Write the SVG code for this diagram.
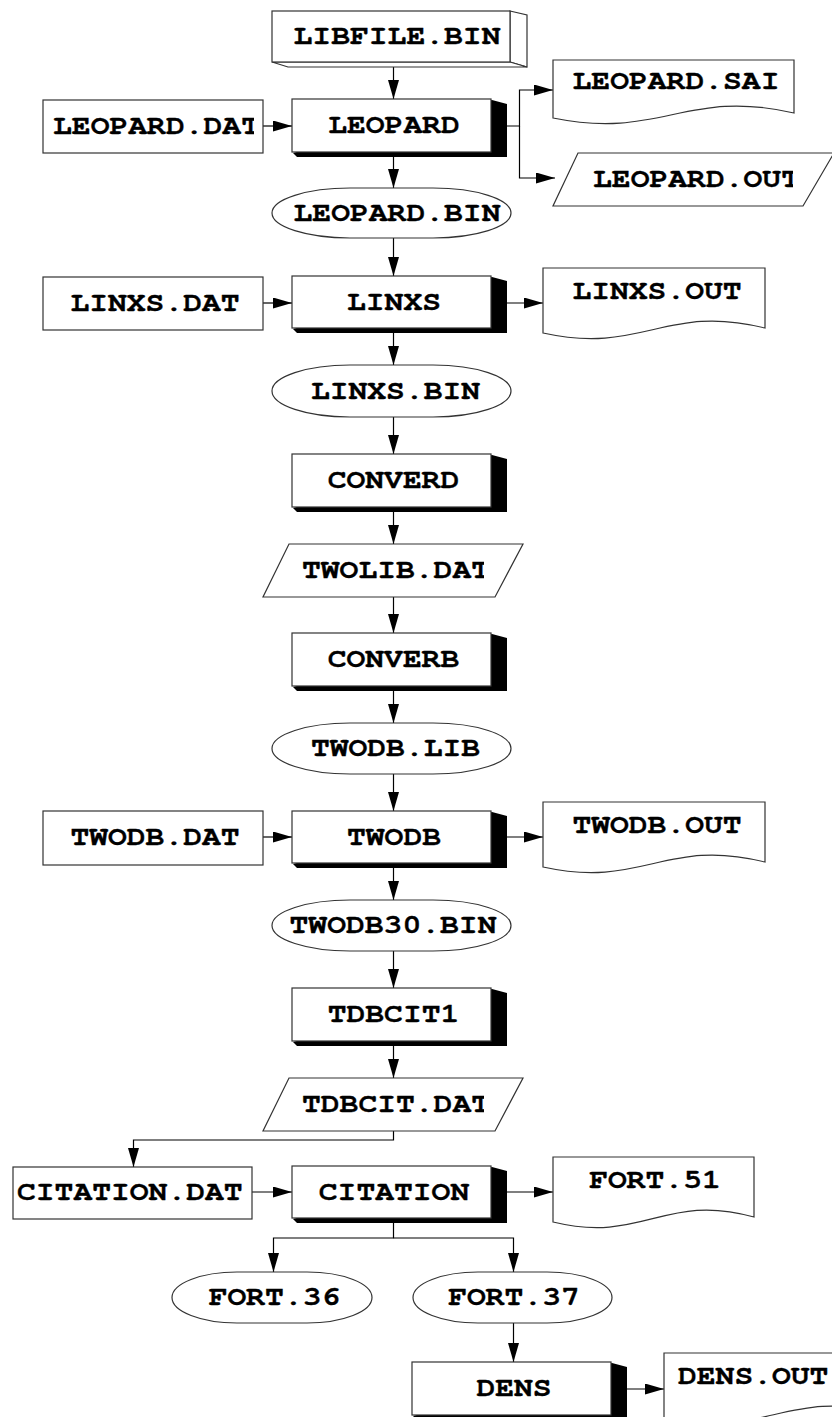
<svg xmlns="http://www.w3.org/2000/svg" width="832" height="1417" viewBox="0 0 832 1417">
<style>
.bg{fill:#fff}
.n{fill:#fff;stroke:#333;stroke-width:1.2}
.sh{fill:#000}
.t{font-family:"Nimbus Mono PS","Nimbus Mono L","FreeMono","Liberation Mono",monospace;font-weight:bold;font-size:26px;fill:#000;stroke:#000;stroke-width:0.3}
.c{fill:none;stroke:#000;stroke-width:1.2}
</style>
<defs>
<marker id="ah" markerUnits="userSpaceOnUse" markerWidth="20" markerHeight="12" refX="19" refY="5.5" orient="auto">
<path d="M0,0 L19,5.5 L0,11 Z" fill="#000"/>
</marker>
<clipPath id="cLD"><rect x="43" y="95" width="211" height="62"/></clipPath>
<clipPath id="cLO"><rect x="553" y="150" width="240" height="60"/></clipPath>
<clipPath id="cTL"><rect x="263" y="540" width="221" height="60"/></clipPath>
<clipPath id="cTD"><rect x="263" y="1074" width="221" height="60"/></clipPath>
<clipPath id="cCD"><rect x="13" y="1162" width="232" height="60"/></clipPath>
</defs>
<rect class="bg" x="0" y="0" width="832" height="1417"/>

<g id="connectors">
<line class="c" x1="393.5" y1="67" x2="393.5" y2="99" marker-end="url(#ah)"/>
<line class="c" x1="263" y1="126" x2="292" y2="126" marker-end="url(#ah)"/>
<polyline class="c" points="507,126 519.5,126 519.5,90 553,90" marker-end="url(#ah)"/>
<polyline class="c" points="519.5,126 519.5,178 555,178" marker-end="url(#ah)"/>
<line class="c" x1="393.5" y1="157" x2="393.5" y2="188" marker-end="url(#ah)"/>
<line class="c" x1="393.5" y1="238" x2="393.5" y2="276" marker-end="url(#ah)"/>
<line class="c" x1="263" y1="303" x2="292" y2="303" marker-end="url(#ah)"/>
<line class="c" x1="507" y1="303" x2="543" y2="303" marker-end="url(#ah)"/>
<line class="c" x1="393.5" y1="333" x2="393.5" y2="365" marker-end="url(#ah)"/>
<line class="c" x1="393.5" y1="417" x2="393.5" y2="454" marker-end="url(#ah)"/>
<line class="c" x1="393.5" y1="512" x2="393.5" y2="544" marker-end="url(#ah)"/>
<line class="c" x1="393.5" y1="597" x2="393.5" y2="633" marker-end="url(#ah)"/>
<line class="c" x1="393.5" y1="691" x2="393.5" y2="723" marker-end="url(#ah)"/>
<line class="c" x1="393.5" y1="774" x2="393.5" y2="811" marker-end="url(#ah)"/>
<line class="c" x1="263" y1="837" x2="292" y2="837" marker-end="url(#ah)"/>
<line class="c" x1="507" y1="837" x2="543" y2="837" marker-end="url(#ah)"/>
<line class="c" x1="393.5" y1="868" x2="393.5" y2="900" marker-end="url(#ah)"/>
<line class="c" x1="393.5" y1="951" x2="393.5" y2="988" marker-end="url(#ah)"/>
<line class="c" x1="393.5" y1="1046" x2="393.5" y2="1078" marker-end="url(#ah)"/>
<polyline class="c" points="393.5,1131 393.5,1140 133.5,1140 133.5,1167" marker-end="url(#ah)"/>
<line class="c" x1="252" y1="1192" x2="292" y2="1192" marker-end="url(#ah)"/>
<line class="c" x1="507" y1="1192" x2="553" y2="1192" marker-end="url(#ah)"/>
<polyline class="c" points="393.5,1223 393.5,1238 273.5,1238 273.5,1272" marker-end="url(#ah)"/>
<polyline class="c" points="393.5,1238 513.5,1238 513.5,1272" marker-end="url(#ah)"/>
<line class="c" x1="513.5" y1="1323" x2="513.5" y2="1362" marker-end="url(#ah)"/>
<line class="c" x1="627" y1="1389" x2="664" y2="1389" marker-end="url(#ah)"/>
</g>

<g id="libfile_bin">
<polygon class="n" points="510,11 527,15 527,67 510,62"/>
<polygon class="n" points="272,62 510,62 527,67 288,67"/>
<rect class="n" x="272" y="11" width="238" height="51"/>
<text class="t" x="397" y="44" text-anchor="middle" textLength="207" lengthAdjust="spacingAndGlyphs">LIBFILE.BIN</text>
</g>

<g id="leopard_dat">
<rect class="n" x="43" y="100" width="220" height="53"/>
<text class="t" x="53" y="134" clip-path="url(#cLD)" textLength="207" lengthAdjust="spacingAndGlyphs">LEOPARD.DAT</text>
</g>

<g id="leopard">
<polygon class="sh" points="492,100 507,104 507,157 297,157 293,153"/>
<rect class="n" x="292" y="99" width="199" height="53"/>
<text class="t" x="394" y="133" text-anchor="middle" textLength="131.6" lengthAdjust="spacingAndGlyphs">LEOPARD</text>
</g>

<g id="leopard_sai">
<path class="n" d="M553,60 H794 V113 C685.5,88 661.5,140 553,118 Z"/>
<text class="t" x="676" y="89" text-anchor="middle" textLength="207" lengthAdjust="spacingAndGlyphs">LEOPARD.SAI</text>
</g>

<g id="leopard_out">
<polygon class="n" points="578,153 834,153 803,206 553,206"/>
<text class="t" x="593" y="187" clip-path="url(#cLO)" textLength="207" lengthAdjust="spacingAndGlyphs">LEOPARD.OUT</text>
</g>

<g id="leopard_bin">
<rect class="n" x="272" y="188" width="239" height="50" rx="78" ry="25"/>
<text class="t" x="397" y="220.5" text-anchor="middle" textLength="207" lengthAdjust="spacingAndGlyphs">LEOPARD.BIN</text>
</g>

<g id="linxs_dat">
<rect class="n" x="43" y="277" width="220" height="53"/>
<text class="t" x="155" y="311" text-anchor="middle" textLength="169" lengthAdjust="spacingAndGlyphs">LINXS.DAT</text>
</g>

<g id="linxs">
<polygon class="sh" points="492,277 507,281 507,333 297,333 293,329"/>
<rect class="n" x="292" y="276" width="199" height="52"/>
<text class="t" x="394" y="309.5" text-anchor="middle" textLength="94" lengthAdjust="spacingAndGlyphs">LINXS</text>
</g>

<g id="linxs_out">
<path class="n" d="M543,268 H765 V328 C665,303 643,355 543,333 Z"/>
<text class="t" x="657" y="299" text-anchor="middle" textLength="169" lengthAdjust="spacingAndGlyphs">LINXS.OUT</text>
</g>

<g id="linxs_bin">
<rect class="n" x="272" y="365" width="239" height="52" rx="78" ry="26"/>
<text class="t" x="395.5" y="398.5" text-anchor="middle" textLength="169" lengthAdjust="spacingAndGlyphs">LINXS.BIN</text>
</g>

<g id="converd">
<polygon class="sh" points="492,455 507,459 507,512 297,512 293,508"/>
<rect class="n" x="292" y="454" width="199" height="53"/>
<text class="t" x="393.5" y="488" text-anchor="middle" textLength="131.6" lengthAdjust="spacingAndGlyphs">CONVERD</text>
</g>

<g id="twolib_dat">
<polygon class="n" points="289,544 523,544 495,597 263,597"/>
<text class="t" x="302" y="578" clip-path="url(#cTL)" textLength="188" lengthAdjust="spacingAndGlyphs">TWOLIB.DAT</text>
</g>

<g id="converb">
<polygon class="sh" points="492,634 507,638 507,691 297,691 293,687"/>
<rect class="n" x="292" y="633" width="199" height="53"/>
<text class="t" x="393.5" y="667" text-anchor="middle" textLength="131.6" lengthAdjust="spacingAndGlyphs">CONVERB</text>
</g>

<g id="twodb_lib">
<rect class="n" x="272" y="723" width="239" height="51" rx="78" ry="25.5"/>
<text class="t" x="395.5" y="756" text-anchor="middle" textLength="169" lengthAdjust="spacingAndGlyphs">TWODB.LIB</text>
</g>

<g id="twodb_dat">
<rect class="n" x="43" y="811" width="220" height="54"/>
<text class="t" x="155" y="845" text-anchor="middle" textLength="169" lengthAdjust="spacingAndGlyphs">TWODB.DAT</text>
</g>

<g id="twodb">
<polygon class="sh" points="492,812 507,816 507,868 297,868 293,864"/>
<rect class="n" x="292" y="811" width="199" height="52"/>
<text class="t" x="394" y="844.5" text-anchor="middle" textLength="94" lengthAdjust="spacingAndGlyphs">TWODB</text>
</g>

<g id="twodb_out">
<path class="n" d="M543,802 H765 V862 C665,837 643,889 543,867 Z"/>
<text class="t" x="657" y="833" text-anchor="middle" textLength="169" lengthAdjust="spacingAndGlyphs">TWODB.OUT</text>
</g>

<g id="twodb30_bin">
<rect class="n" x="272" y="900" width="239" height="51" rx="78" ry="25.5"/>
<text class="t" x="393" y="933" text-anchor="middle" textLength="207" lengthAdjust="spacingAndGlyphs">TWODB30.BIN</text>
</g>

<g id="tdbcit1">
<polygon class="sh" points="492,989 507,993 507,1046 297,1046 293,1042"/>
<rect class="n" x="292" y="988" width="199" height="53"/>
<text class="t" x="393.5" y="1022" text-anchor="middle" textLength="131.6" lengthAdjust="spacingAndGlyphs">TDBCIT1</text>
</g>

<g id="tdbcit_dat">
<polygon class="n" points="289,1078 523,1078 495,1131 263,1131"/>
<text class="t" x="302" y="1112" clip-path="url(#cTD)" textLength="188" lengthAdjust="spacingAndGlyphs">TDBCIT.DAT</text>
</g>

<g id="citation_dat">
<rect class="n" x="13" y="1167" width="239" height="52"/>
<text class="t" x="17" y="1200" clip-path="url(#cCD)" textLength="225.6" lengthAdjust="spacingAndGlyphs">CITATION.DAT</text>
</g>

<g id="citation">
<polygon class="sh" points="492,1167 507,1171 507,1223 297,1223 293,1219"/>
<rect class="n" x="292" y="1166" width="199" height="52"/>
<text class="t" x="394" y="1199.5" text-anchor="middle" textLength="150.4" lengthAdjust="spacingAndGlyphs">CITATION</text>
</g>

<g id="fort_51">
<path class="n" d="M553,1157 H754 V1217 C664.5,1192 643.5,1244 553,1222 Z"/>
<text class="t" x="655" y="1188" text-anchor="middle" textLength="131.6" lengthAdjust="spacingAndGlyphs">FORT.51</text>
</g>

<g id="fort_36">
<rect class="n" x="172" y="1272" width="200" height="51" rx="65" ry="25.5"/>
<text class="t" x="274.5" y="1305" text-anchor="middle" textLength="131.6" lengthAdjust="spacingAndGlyphs">FORT.36</text>
</g>

<g id="fort_37">
<rect class="n" x="413" y="1272" width="199" height="51" rx="65" ry="25.5"/>
<text class="t" x="514" y="1305" text-anchor="middle" textLength="131.6" lengthAdjust="spacingAndGlyphs">FORT.37</text>
</g>

<g id="dens">
<polygon class="sh" points="612,1363 627,1367 627,1420 417,1420 413,1416"/>
<rect class="n" x="412" y="1362" width="199" height="53"/>
<text class="t" x="514" y="1396" text-anchor="middle" textLength="75.2" lengthAdjust="spacingAndGlyphs">DENS</text>
</g>

<g id="dens_out">
<path class="n" d="M664,1353 H886 V1413 C786,1388 764,1440 664,1418 Z"/>
<text class="t" x="678" y="1384" textLength="150.4" lengthAdjust="spacingAndGlyphs">DENS.OUT</text>
</g>
</svg>
